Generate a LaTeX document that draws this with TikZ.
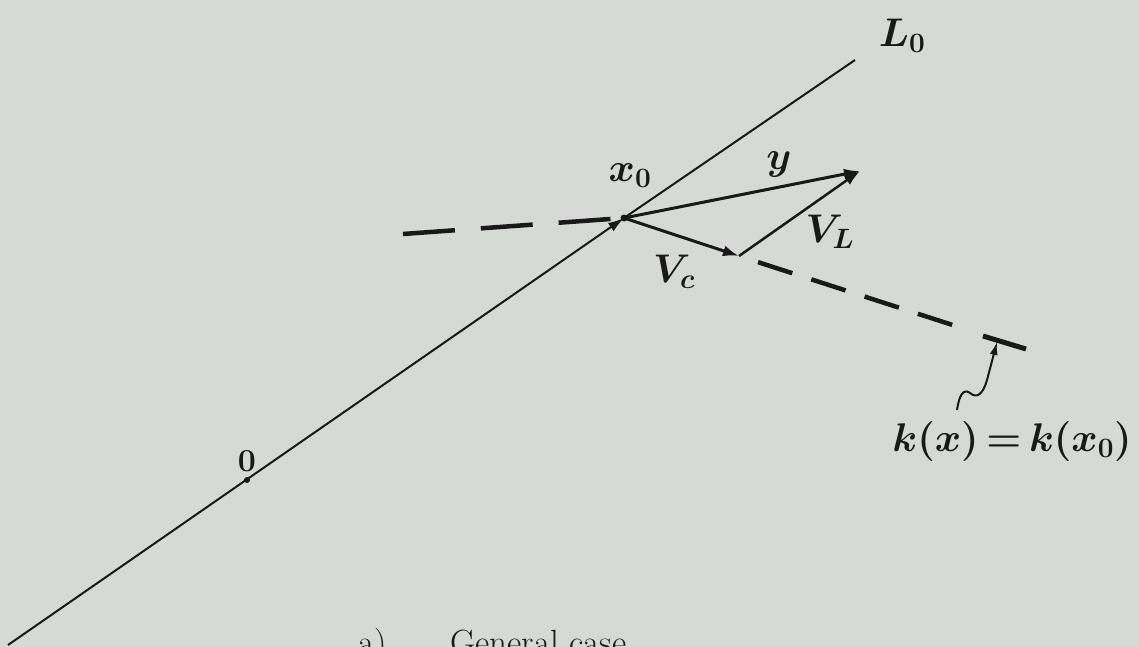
\RequirePackage{fix-cm}
\documentclass[tikz,border=0pt]{standalone}
\usetikzlibrary{arrows.meta}
\definecolor{paper}{RGB}{214,218,213}
\definecolor{ink}{RGB}{25,25,25}
\tikzset{
  thinline/.style={ink, line width=2pt},
  vec/.style={ink, line width=3pt, -{Latex[length=16pt,width=11pt]}},
  dashline/.style={ink, line width=4.5pt},
  hand/.style={ink, font=\fontsize{40}{46}\selectfont\boldmath, inner sep=0pt},
  captext/.style={ink, font=\fontsize{35}{40}\selectfont, inner sep=0pt, anchor=base west},
  dotmark/.style={ink, fill=ink}
}
\begin{document}
\begin{tikzpicture}[x=1pt,y=-1pt]
\useasboundingbox (0,0) rectangle (1139,647);
\fill[paper] (0,0) rectangle (1139,647);
\clip (0,0) rectangle (1139,647);
% points
\coordinate (Lstart) at (8,645);
\coordinate (O) at (247,480);
\coordinate (x0) at (624,218);
\coordinate (Lend) at (855,60);
\coordinate (ytip) at (860,171);
\coordinate (vc) at (739,256);
\coordinate (dl) at (403,234);
\coordinate (dr) at (965,329);
\coordinate (bar1) at (983,336);
\coordinate (bar2) at (1026,349);
\coordinate (sq) at (957,410);
\coordinate (arrtip) at (997,342);
% main line L0
\draw[thinline, -{Latex[length=16pt,width=10pt]}] (Lstart) -- (x0);
\draw[thinline] (x0) -- (Lend);
\fill[dotmark] (O) circle (3pt);
\fill[dotmark] (x0) circle (3.5pt);
% dashed level line
\draw[dashline, dash pattern=on 52pt off 26pt] (dl) -- (x0);
\draw[dashline, dash pattern=on 36pt off 20pt, dash phase=36pt] (vc) -- (dr);
\draw[ink, line width=5pt] (bar1) -- (bar2);
% vectors
\draw[vec] (x0) -- (ytip);
\draw[vec] (x0) -- (vc);
\draw[ink, line width=2.5pt, -{Latex[length=16pt,width=11pt]}] (vc) -- (ytip);
% squiggle arrow
\draw[ink, line width=2pt, -{Latex[length=13pt,width=8pt]}]
  (sq) .. controls (959,396) and (963,388) .. (970,393)
  .. controls (977,399) and (983,394) .. (987,380) -- (arrtip);
% labels
\node[hand] (lL) at (902,36) {$L_0$};
\node[hand] (lx) at (630,176) {$x_0$};
\node[hand] (ly) at (779,165) {$y$};
\node[hand] (lvc) at (674,272) {$V_c$};
\node[hand] (lvl) at (830,232) {$V_L$};
\node[ink, font=\fontsize{32}{38}\selectfont\bfseries, inner sep=0pt] (lO) at (247,461) {0};
\node[hand] (lk) at (1012,441) {$k(x)\mkern-2mu=\mkern-2mu k(x_0)$};
% caption
\node[captext] (ca) at (358,654) {a)};
\node[captext] (cb) at (450,654) {General case};
\end{tikzpicture}
\end{document}
